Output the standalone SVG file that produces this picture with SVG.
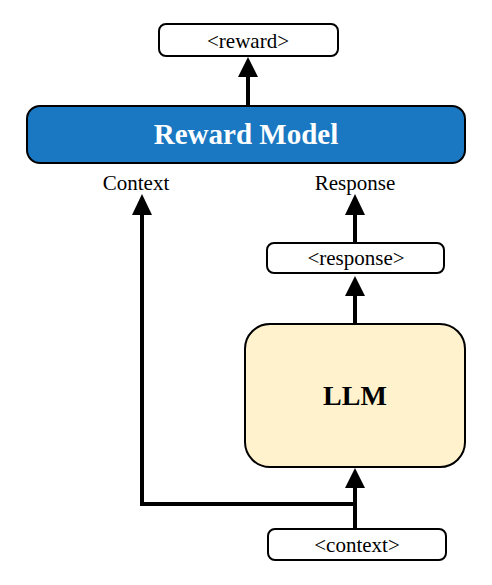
<svg xmlns="http://www.w3.org/2000/svg" width="492" height="585" viewBox="0 0 492 585">
<style>
.box{fill:#fff;stroke:#000;stroke-width:2}
.lbl{font-family:"Liberation Serif","Times New Roman",serif;font-size:21px;fill:#000;text-anchor:middle}
.big{font-family:"Liberation Serif","Times New Roman",serif;font-weight:bold;text-anchor:middle}
.ln{fill:none;stroke:#000;stroke-width:4}
.hd{fill:#000}
</style>
<rect width="492" height="585" fill="#fff"/>
<g id="connectors">
<line class="ln" x1="248" y1="106" x2="248" y2="75"/>
<polygon class="hd" points="238,77 258,77 248,57"/>
<polyline class="ln" points="355,504 142,504 142,213"/>
<polygon class="hd" points="132,215 152,215 142,194"/>
<line class="ln" x1="355" y1="529" x2="355" y2="486"/>
<polygon class="hd" points="345,488 365,488 355,468"/>
<line class="ln" x1="355" y1="324" x2="355" y2="294"/>
<polygon class="hd" points="345,296 365,296 355,276"/>
<line class="ln" x1="355" y1="243" x2="355" y2="213"/>
<polygon class="hd" points="345,215 365,215 355,194"/>
</g>
<g id="reward">
<rect class="box" x="159" y="24" width="179" height="32" rx="7"/>
<text class="lbl" x="248" y="48">&lt;reward&gt;</text>
</g>
<g id="reward-model">
<rect x="27" y="106" width="438" height="57" rx="13" fill="#1a78c2" stroke="#000" stroke-width="2"/>
<text class="big" x="246" y="144" font-size="29" fill="#fff">Reward Model</text>
</g>
<g id="context-label"><text class="lbl" x="136" y="190">Context</text></g>
<g id="response-label"><text class="lbl" x="355" y="190">Response</text></g>
<g id="response">
<rect class="box" x="267" y="243" width="177" height="30" rx="7"/>
<text class="lbl" x="356" y="265">&lt;response&gt;</text>
</g>
<g id="llm">
<rect x="245" y="324" width="220" height="143" rx="25" fill="#fff2cc" stroke="#000" stroke-width="2"/>
<text class="big" x="355" y="405" font-size="28" fill="#000">LLM</text>
</g>
<g id="context">
<rect class="box" x="268" y="529" width="178" height="31" rx="7"/>
<text class="lbl" x="357" y="552">&lt;context&gt;</text>
</g>
</svg>
